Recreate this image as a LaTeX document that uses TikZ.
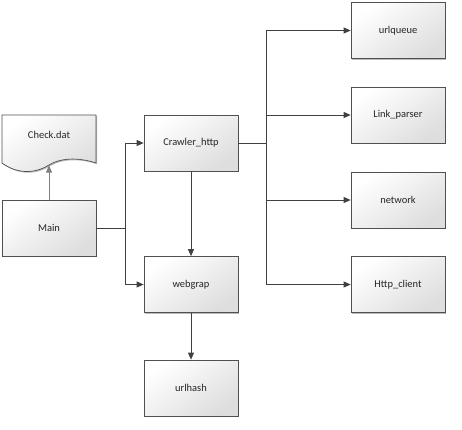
\documentclass[tikz,border=0pt]{standalone}
\usepackage{fontspec}
\setmainfont{Carlito}
\usetikzlibrary{shadows,arrows.meta}
\definecolor{edgec}{HTML}{404040}
\definecolor{boxline}{HTML}{505050}
\tikzset{
  modbox/.style={draw=boxline, line width=0.7bp, rectangle, minimum width=94bp, minimum height=56bp,
    top color=white, bottom color=black!13, shading angle=35,
    drop shadow={shadow xshift=1.2bp, shadow yshift=-1.2bp, fill=black!45, opacity=0.6},
    font=\fontsize{10.5}{12}\selectfont, text=black!85, inner sep=0pt},
  conn/.style={draw=edgec, line width=0.8bp, -{Triangle[length=7bp,width=6bp]}},
  plainconn/.style={draw=edgec, line width=0.8bp},
}
\begin{document}
\begin{tikzpicture}[x=1bp,y=-1bp]
\useasboundingbox (0,0) rectangle (462,429);
% Check.dat document shape
\begin{scope}
\fill[black!45, opacity=0.6, xshift=1.2bp, yshift=-1.2bp]
  (2,115) -- (96,115) -- (96,163) .. controls (78,157) and (60,158) .. (49,165)
  .. controls (38,172) and (20,176) .. (2,163) -- cycle;
\shade[top color=white, bottom color=black!13, shading angle=35, draw=boxline, line width=0.7bp]
  (2,115) -- (96,115) -- (96,163) .. controls (78,157) and (60,158) .. (49,165)
  .. controls (38,172) and (20,176) .. (2,163) -- cycle;
\end{scope}
\node[font=\fontsize{10.5}{12}\selectfont, text=black!85] (check) at (49,135) {Check.dat};
\coordinate (checkb) at (49,165.5);

\node[modbox] (main) at (49,228) {Main};
\node[modbox] (crawler) at (191,143) {Crawler\_http};
\node[modbox] (webgrap) at (191,284.5) {webgrap};
\node[modbox] (urlhash) at (191,388) {urlhash};
\node[modbox] (urlqueue) at (398,30.5) {urlqueue};
\node[modbox] (link) at (398,115) {Link\_parser};
\node[modbox] (network) at (398,200) {network};
\node[modbox] (http) at (398,284.5) {Http\_client};

\coordinate (j1) at (125,228);
\coordinate (j2) at (266,143);

\draw[conn, draw=black!50] (main.north) -- (checkb);
\draw[plainconn] (main.east) -- (j1);
\draw[conn] (j1) |- (crawler.west);
\draw[conn] (j1) |- (webgrap.west);
\draw[conn] (crawler.south) -- (webgrap.north);
\draw[conn] (webgrap.south) -- (urlhash.north);
\draw[plainconn] (crawler.east) -- (j2);
\draw[conn] (j2) |- (urlqueue.west);
\draw[conn] (j2) |- (link.west);
\draw[conn] (j2) |- (network.west);
\draw[conn] (j2) |- (http.west);
\end{tikzpicture}
\end{document}
